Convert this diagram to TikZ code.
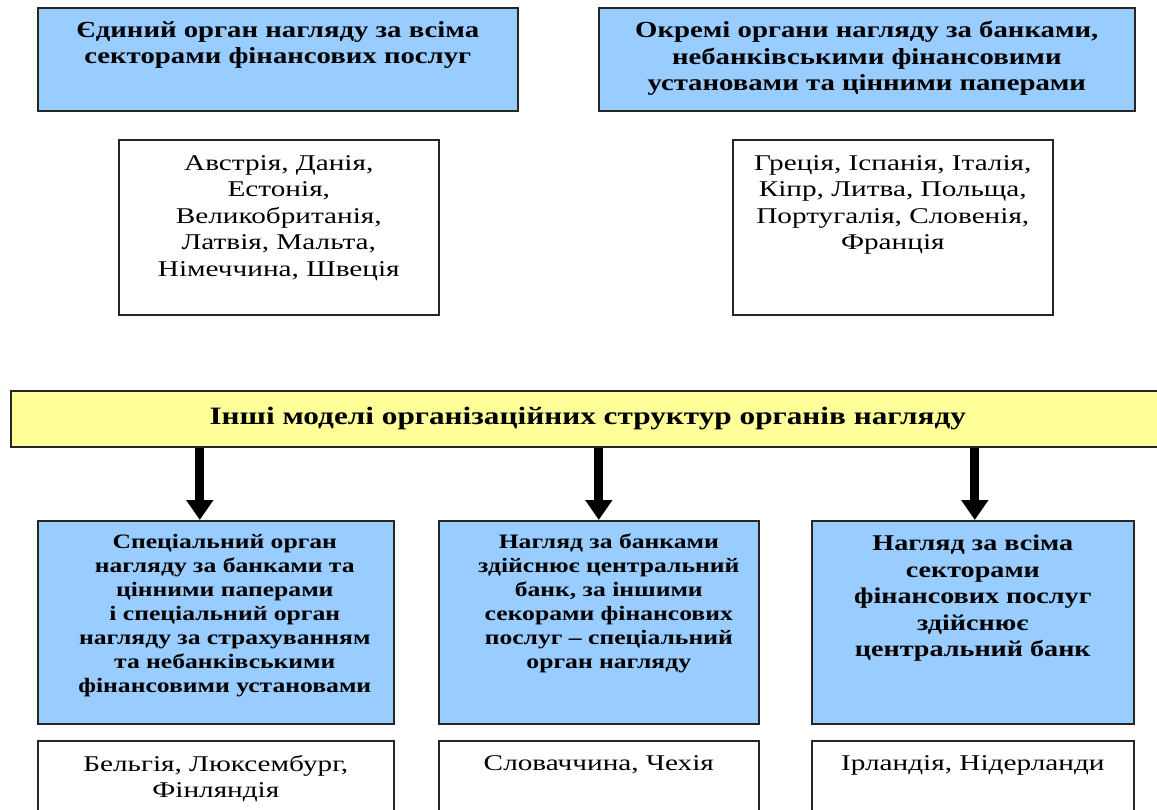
\documentclass[tikz,border=0pt]{standalone}
\usepackage{fontspec}
\setmainfont{Liberation Serif}[FakeStretch=1.25]
\newfontfamily\plainfont{Liberation Serif}[FakeStretch=1.3]
\usetikzlibrary{arrows.meta}
\definecolor{boxblue}{HTML}{99CCFF}
\definecolor{boxyellow}{HTML}{FFFF99}
\begin{document}
\begin{tikzpicture}[x=1pt,y=-1pt,
  frame/.style={draw=black!85, line width=1.6pt, inner sep=0pt, anchor=north west},
  bluebox/.style={frame, fill=boxblue},
  whitebox/.style={frame, fill=white},
  yelbox/.style={frame, fill=boxyellow},
  txt/.style={anchor=north, align=center, inner sep=0pt},
  tbold/.style={txt, font=\fontsize{23}{26.5}\selectfont\bfseries},
  sbold/.style={txt, font=\fontsize{20.5}{24}\selectfont\bfseries},
  rbold/.style={txt, font=\fontsize{22.5}{26.5}\selectfont\bfseries},
  plain/.style={txt, font=\plainfont\fontsize{22.5}{26.5}\selectfont},
  ybold/.style={txt, font=\fontsize{25}{30}\selectfont\bfseries},
  arr/.style={line width=9pt, -{Triangle[width=26pt,length=20pt]}}
]
\useasboundingbox (0,0) rectangle (1157,809);
\clip (0,0) rectangle (1157,809);
% top row
\node[bluebox, minimum width=480pt, minimum height=103pt] (b1) at (37,7) {};
\node[bluebox, minimum width=536pt, minimum height=103pt] (b2) at (598,7) {};
\node[tbold] (t1) at ([yshift=-14pt]b1.north) {Єдиний орган нагляду за всіма\\секторами фінансових послуг};
\node[tbold] (t2) at ([yshift=-14pt]b2.north) {Окремі органи нагляду за банками,\\небанківськими фінансовими\\установами та цінними паперами};
\node[whitebox, minimum width=320pt, minimum height=175pt] (c1) at (118,139) {};
\node[whitebox, minimum width=320pt, minimum height=175pt] (c2) at (732,139) {};
\node[plain] (ct1) at ([yshift=-16pt]c1.north) {Австрія, Данія,\\Естонія,\\Великобританія,\\Латвія, Мальта,\\Німеччина, Швеція};
\node[plain] (ct2) at ([yshift=-16pt]c2.north) {Греція, Іспанія, Італія,\\Кіпр, Литва, Польща,\\Португалія, Словенія,\\Франція};
% yellow
\node[yelbox, minimum width=1150pt, minimum height=56pt] (y) at (10,390) {};
\node[ybold] (yt) at ([xshift=2pt]y.center) [anchor=center] {Інші моделі організаційних структур органів нагляду};
% bottom blue
\node[bluebox, minimum width=356pt, minimum height=203pt] (bl) at (37,520) {};
\node[bluebox, minimum width=320pt, minimum height=203pt] (bm) at (438,520) {};
\node[bluebox, minimum width=322pt, minimum height=203pt] (br) at (811,520) {};
\node[sbold] (tl) at ([xshift=9pt,yshift=-14pt]bl.north) {Спеціальний орган\\нагляду за банками та\\цінними паперами\\і спеціальний орган\\нагляду за страхуванням\\та небанківськими\\фінансовими установами};
\node[sbold] (tm) at ([xshift=10pt,yshift=-14pt]bm.north) {Нагляд за банками\\здійснює центральний\\банк, за іншими\\секорами фінансових\\послуг – спеціальний\\орган нагляду};
\node[rbold] (tr) at ([yshift=-15pt]br.north) {Нагляд за всіма\\секторами\\фінансових послуг\\здійснює\\центральний банк};
% bottom white
\node[whitebox, minimum width=356pt, minimum height=100pt] (wl) at (37,740) {};
\node[whitebox, minimum width=320pt, minimum height=100pt] (wm) at (438,740) {};
\node[whitebox, minimum width=322pt, minimum height=100pt] (wr) at (811,740) {};
\node[plain] (wtl) at ([yshift=-15pt]wl.north) {Бельгія, Люксембург,\\Фінляндія};
\node[plain] (wtm) at ([yshift=-15pt]wm.north) {Словаччина, Чехія};
\node[plain] (wtr) at ([yshift=-15pt]wr.north) {Ірландія, Нідерланди};
% arrows
\draw[arr] ([xshift=-16pt]bl.north |- y.south) -- ([xshift=-16pt]bl.north);
\draw[arr] (bm.north |- y.south) -- (bm.north);
\draw[arr] ([xshift=2pt]br.north |- y.south) -- ([xshift=2pt]br.north);
\end{tikzpicture}
\end{document}
